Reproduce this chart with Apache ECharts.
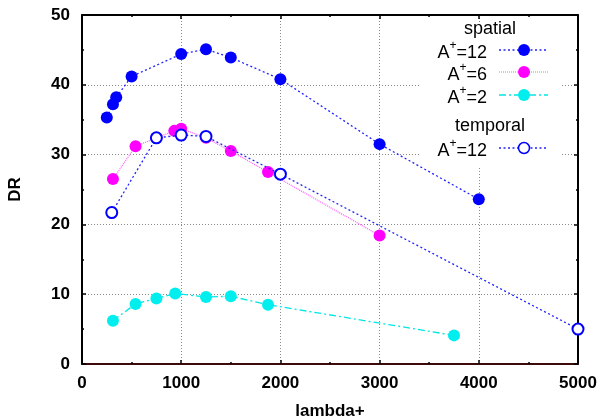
<!DOCTYPE html>
<html>
<head>
<meta charset="utf-8">
<script src="https://cdn.jsdelivr.net/npm/echarts@6/dist/echarts.min.js"></script>
<style>
  html, body { margin: 0; padding: 0; background: #fff; }
  #chart { width: 604px; height: 419px; }
</style>
</head>
<body>
<div id="chart"></div>
<script>
// DR as a function of lambda+
const spatial12X = [250, 312, 345, 500, 1000, 1250, 1500, 2000, 3000, 4000];
const spatial12Y = [35.3, 37.2, 38.2, 41.2, 44.4, 45.1, 43.9, 40.8, 31.5, 23.6];

const spatial6X = [312, 540, 750, 930, 1000, 1250, 1500, 1875, 3000];
const spatial6Y = [26.5, 31.2, 32.4, 33.4, 33.7, 32.4, 30.5, 27.5, 18.4];

const spatial2X = [312, 540, 750, 940, 1250, 1500, 1875, 3750];
const spatial2Y = [6.2, 8.6, 9.4, 10.1, 9.6, 9.7, 8.5, 4.1];

const temporal12X = [300, 750, 1000, 1250, 2000, 5000];
const temporal12Y = [21.7, 32.4, 32.8, 32.6, 27.2, 5.0];

const xTicks = [0, 1000, 2000, 3000, 4000, 5000];
const yTicks = [0, 10, 20, 30, 40, 50];

const xTitle = 'lambda+';
const yTitle = 'DR';
const groupTitles = ['spatial', 'temporal'];
const seriesAValues = ['12', '6', '2', '12'];

const FONT = '"Liberation Sans", Arial, Helvetica, sans-serif';

function pairs(xs, ys) {
  return xs.map((x, i) => [x, ys[i]]);
}

// drawing styles for each curve
const styles = [
  { color: '#0000ff', line: { color: '#2222ff', width: 1.3, type: [2, 2.5] }, symbol: 'circle', size: 12 },
  { color: '#ff00ff', line: { color: '#ff55ff', width: 1.2, type: [1, 1] }, symbol: 'circle', size: 12 },
  { color: '#00eeee', line: { color: '#00e6e6', width: 1.3, type: [7, 3, 2, 3] }, symbol: 'circle', size: 12 },
  { color: '#0000ff', line: { color: '#2222ff', width: 1.3, type: [2, 2.5] }, symbol: 'emptyCircle', size: 11 }
];

const seriesData = [
  pairs(spatial12X, spatial12Y),
  pairs(spatial6X, spatial6Y),
  pairs(spatial2X, spatial2Y),
  pairs(temporal12X, temporal12Y)
];

const series = seriesData.map((data, i) => {
  const s = styles[i];
  return {
    type: 'line',
    data: data,
    symbol: s.symbol,
    symbolSize: s.size,
    showAllSymbol: true,
    clip: false,
    itemStyle: s.symbol === 'emptyCircle'
      ? { color: s.color, borderColor: s.color, borderWidth: 1.5 }
      : { color: s.color },
    lineStyle: s.line,
    emphasis: { disabled: true },
    z: 3 + i
  };
});

const labelStyle = { fontFamily: FONT, fontSize: 17, fontWeight: 'bold', color: '#000' };

function frameAxis(position, isX) {
  return {
    type: 'value',
    position: position,
    min: isX ? xTicks[0] : yTicks[0],
    max: isX ? xTicks[xTicks.length - 1] : yTicks[yTicks.length - 1],
    interval: isX ? xTicks[1] - xTicks[0] : yTicks[1] - yTicks[0],
    axisLine: { show: true, onZero: false, lineStyle: { color: '#000', width: 2 } },
    axisTick: { show: true, inside: true, length: 4, lineStyle: { color: '#000', width: 1.5 } },
    minorTick: { show: true, splitNumber: 2, length: 2, lineStyle: { color: '#000', width: 1.5 } },
    axisLabel: { show: false },
    splitLine: { show: false },
    silent: true
  };
}

const plainNumber = v => String(v);

const xMain = Object.assign(frameAxis('bottom', true), {
  axisLine: { show: true, onZero: false, lineStyle: { color: '#3c0a0a', width: 2 } },
  axisLabel: Object.assign({ show: true, margin: 11, formatter: plainNumber }, labelStyle),
  splitLine: { show: true, lineStyle: { color: '#8a8a8a', width: 1, type: [1, 2] } },
  name: xTitle,
  nameLocation: 'middle',
  nameGap: 39,
  nameTextStyle: labelStyle
});

const yMain = Object.assign(frameAxis('left', false), {
  axisLabel: Object.assign({ show: true, margin: 12, formatter: plainNumber }, labelStyle),
  splitLine: { show: true, lineStyle: { color: '#8a8a8a', width: 1, type: [1, 2] } },
  name: yTitle,
  nameLocation: 'middle',
  nameGap: 58,
  nameTextStyle: labelStyle
});

// key box, drawn by hand so the entries can be grouped under headings
const KEY_TEXT_RIGHT = 487;
const KEY_LINE_X0 = 499;
const KEY_LINE_X1 = 548;
const KEY_SYMBOL_X = 524;
const keyRowsY = [50, 72, 95, 148];
const keyHeadY = [29, 126];

const graphic = [
  { type: 'rect', z: 1, silent: true,
    shape: { x: 421, y: 22, width: 139, height: 145 },
    style: { fill: '#ffffff' } }
];

groupTitles.forEach((t, i) => {
  graphic.push({
    type: 'text', z: 10, silent: true,
    x: 490, y: keyHeadY[i],
    style: { text: t, fontFamily: FONT, fontSize: 18, fill: '#000',
             align: 'center', verticalAlign: 'middle' }
  });
});

seriesAValues.forEach((v, i) => {
  const s = styles[i];
  const y = keyRowsY[i];
  graphic.push({
    type: 'text', z: 10, silent: true,
    x: KEY_TEXT_RIGHT, y: y + 1,
    style: {
      text: '{a|A}{s|+}{a|=' + v + '}',
      align: 'right', verticalAlign: 'middle',
      rich: {
        a: { fontFamily: FONT, fontSize: 18, fill: '#000', lineHeight: 22, verticalAlign: 'bottom' },
        s: { fontFamily: FONT, fontSize: 12, fill: '#000', lineHeight: 22, verticalAlign: 'top' }
      }
    }
  });
  graphic.push({
    type: 'line', z: 10, silent: true,
    shape: { x1: KEY_LINE_X0, y1: y, x2: KEY_LINE_X1, y2: y },
    style: { stroke: s.line.color, lineWidth: s.line.width, lineDash: s.line.type }
  });
  graphic.push({
    type: 'circle', z: 11, silent: true,
    shape: { cx: KEY_SYMBOL_X, cy: y, r: s.size / 2 },
    style: s.symbol === 'emptyCircle'
      ? { fill: '#ffffff', stroke: s.color, lineWidth: 1.5 }
      : { fill: s.color }
  });
});

const chart = echarts.init(document.getElementById('chart'), null, { renderer: 'canvas' });
chart.setOption({
  animation: false,
  backgroundColor: '#ffffff',
  grid: { left: 82, right: 26, top: 15, bottom: 55, containLabel: false, outerBoundsMode: 'none' },
  xAxis: [xMain, frameAxis('top', true)],
  yAxis: [yMain, frameAxis('right', false)],
  graphic: graphic,
  series: series
});
</script>
</body>
</html>
